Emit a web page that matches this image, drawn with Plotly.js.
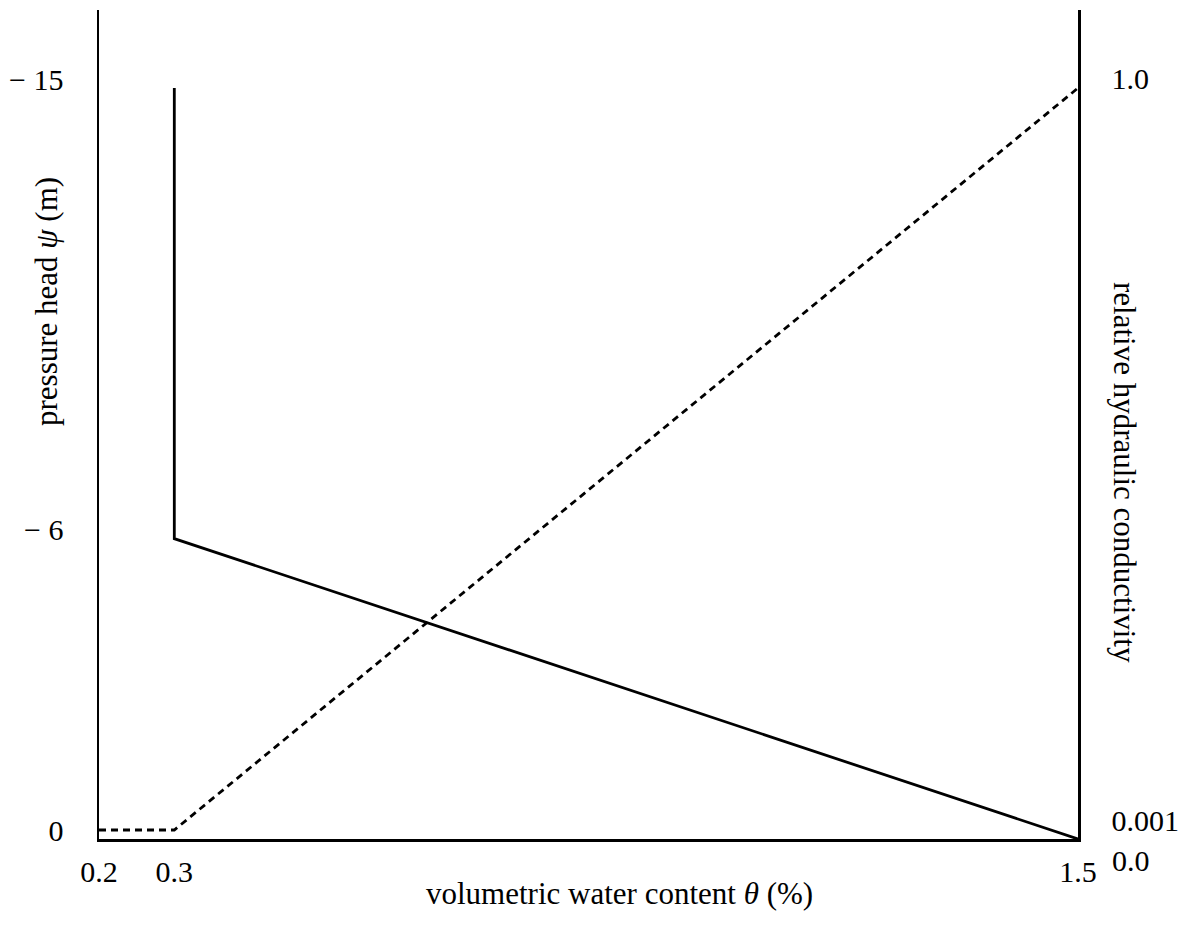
<!DOCTYPE html>
<html>
<head>
<meta charset="utf-8">
<script src="https://cdn.plot.ly/plotly-3.0.1.min.js"></script>
<style>html,body{margin:0;padding:0;background:#fff;}#chart{width:1195px;height:943px;}</style>
</head>
<body>
<div id="chart"></div>
<script>
// water content (theta) and pressure head (psi) of the retention curve
const thetaPsi = [0.3, 0.3, 1.5];
const psiValues = [-15, -6, 0];
// water content and relative hydraulic conductivity
const thetaK = [0.2, 0.3, 1.5];
const kValues = [0.001, 0.001, 1.0];
// tick labels
const xTickVals = [0.2, 0.3, 1.5];
const xTickText = ["0.2", "0.3", "1.5"];
const yTickVals = [-15, -6, 0];
const yTickText = ["\u2212 15", "\u2212 6", "0"];
const y2TickVals = [0.001, 1.0];
const y2TickText = ["0.001", "1.0"];

const font = {family: "Liberation Serif, Times New Roman, serif", size: 30, color: "#000"};
const titleFont = {family: "Liberation Serif, Times New Roman, serif", size: 31, color: "#000"};

const traces = [
  {x: thetaPsi, y: psiValues, type: "scatter", mode: "lines",
   line: {color: "#000", width: 2.8}, yaxis: "y", hoverinfo: "skip"},
  {x: thetaK, y: kValues, type: "scatter", mode: "lines",
   line: {color: "#000", width: 2.8, dash: "7px,5px"}, yaxis: "y2", hoverinfo: "skip"}
];

const layout = {
  width: 1195, height: 943,
  margin: {l: 99, r: 117, t: 10, b: 104},
  paper_bgcolor: "#fff", plot_bgcolor: "#fff",
  showlegend: false,
  font: font,
  xaxis: {
    range: [0.2, 1.5], showgrid: false, zeroline: false,
    showline: true, linecolor: "#000", linewidth: 2.5,
    tickmode: "array", tickvals: xTickVals, ticktext: xTickText,
    ticks: "", ticklabelstandoff: 4, tickfont: font
  },
  yaxis: {
    range: [0, -16.56], showgrid: false, zeroline: false,
    showline: true, linecolor: "#000", linewidth: 2.5,
    tickmode: "array", tickvals: yTickVals, ticktext: yTickText,
    ticks: "", ticklabelstandoff: 27, ticklabelshift: 9, tickfont: font
  },
  yaxis2: {
    type: "log", range: [-3.0364, 0.3154], overlaying: "y", side: "right",
    showgrid: false, zeroline: false,
    showline: true, linecolor: "#000", linewidth: 2.5,
    tickmode: "array", tickvals: y2TickVals, ticktext: y2TickText,
    ticks: "", ticklabelstandoff: 25, ticklabelshift: -10, tickfont: font
  },
  annotations: [
    {text: "volumetric water content <i>\u03b8</i> (%)", xref: "paper", yref: "paper",
     x: (619 - 99) / 979, y: -(893 - 839) / 829, xanchor: "center", yanchor: "middle",
     showarrow: false, font: titleFont},
    {text: "pressure head <i>\u03c8</i> (m)", xref: "paper", yref: "paper",
     x: -(99 - 47) / 979, y: (839 - 302) / 829, xanchor: "center", yanchor: "middle",
     textangle: -90, showarrow: false, font: titleFont},
    {text: "relative hydraulic conductivity", xref: "paper", yref: "paper",
     x: 1 + (1125 - 1078) / 979, y: (839 - 472) / 829, xanchor: "center", yanchor: "middle",
     textangle: 90, showarrow: false, font: titleFont},
    {text: "0.0", xref: "paper", yref: "paper",
     x: 1 + (1110 - 1078) / 979, y: -(860 - 839) / 829, xanchor: "left", yanchor: "middle",
     showarrow: false, font: font}
  ]
};

Plotly.newPlot("chart", traces, layout, {staticPlot: true, displayModeBar: false});
</script>
</body>
</html>
